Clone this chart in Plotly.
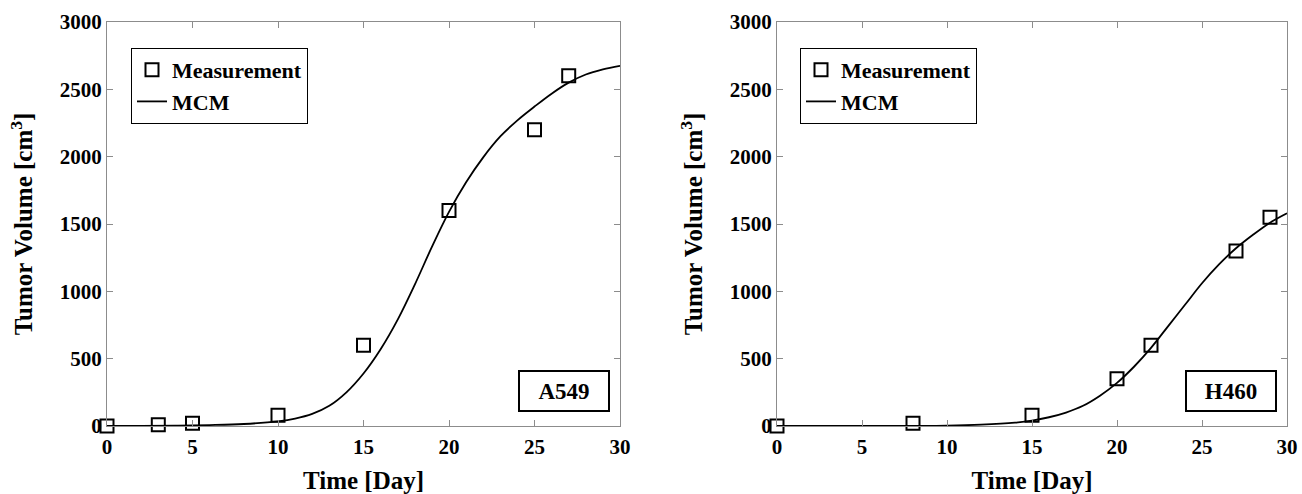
import plotly.graph_objects as go

# Measured tumor volumes
a549_days = [0, 3, 5, 10, 15, 20, 25, 27]
a549_volume = [0, 10, 20, 80, 600, 1600, 2200, 2600]

h460_days = [0, 8, 15, 20, 22, 27, 29]
h460_volume = [0, 20, 80, 350, 600, 1300, 1550]

# MCM model curves
a549_mcm_days = [0, 2, 4, 6, 8, 10, 11, 12, 13, 14, 15, 16, 17, 18, 19, 20,
                 21, 22, 23, 24, 25, 26, 27, 28, 29, 30]
a549_mcm_volume = [0, 1, 3, 7, 15, 35, 55, 90, 150, 250, 390, 570, 790, 1050,
                   1330, 1590, 1810, 1995, 2150, 2270, 2372, 2468, 2550, 2610,
                   2648, 2675]

h460_mcm_days = [0, 5, 8, 10, 12, 14, 15, 16, 17, 18, 19, 20, 21, 22, 23, 24,
                 25, 26, 27, 28, 29, 30]
h460_mcm_volume = [0, 0, 1, 3, 10, 25, 40, 65, 100, 150, 225, 320, 440, 580,
                   740, 900, 1060, 1200, 1320, 1420, 1510, 1580]

x_ticks = [0, 5, 10, 15, 20, 25, 30]
y_ticks = [0, 500, 1000, 1500, 2000, 2500, 3000]

FONT = "Liberation Serif"
AXIS_GREY = "#8c8c8c"

fig = go.Figure()

panels = [
    ("x", "y", "legend", a549_days, a549_volume, a549_mcm_days, a549_mcm_volume),
    ("x2", "y2", "legend2", h460_days, h460_volume, h460_mcm_days, h460_mcm_volume),
]
for xa, ya, lg, d, v, md, mv in panels:
    fig.add_trace(go.Scatter(
        x=d, y=v, mode="markers", name="Measurement", xaxis=xa, yaxis=ya,
        legend=lg, cliponaxis=False,
        marker=dict(symbol="square-open", size=13, color="black",
                    line=dict(width=2, color="black")),
    ))
    fig.add_trace(go.Scatter(
        x=md, y=mv, mode="lines", name="MCM", xaxis=xa, yaxis=ya,
        legend=lg, cliponaxis=False, line_shape="spline",
        line=dict(color="black", width=1.8),
    ))

tick_font = dict(family=FONT, size=21, color="black", weight="bold")
title_font = dict(family=FONT, size=25, color="black", weight="bold")
axis_common = dict(
    showline=True, linecolor=AXIS_GREY, linewidth=1.2, mirror="ticks",
    ticks="inside", ticklen=6, tickcolor=AXIS_GREY, tickwidth=1,
    showgrid=False, zeroline=False, tickfont=tick_font, automargin=False,
)
x_common = dict(range=[0, 30], tickvals=x_ticks, ticklabelstandoff=2,
                title=dict(text="Time [Day]", font=title_font, standoff=19),
                **axis_common)
y_common = dict(range=[0, 3000], tickvals=y_ticks,
                title=dict(text="Tumor Volume [cm<sup>3</sup>]", font=title_font, standoff=19),
                **axis_common)

ydom = [1 - 426 / 494, 1 - 22 / 494]
legend_style = dict(yanchor="top", xanchor="left", y=1 - 48 / 494,
                    bgcolor="white", bordercolor="black", borderwidth=1,
                    font=dict(family=FONT, size=22, color="black", weight="bold"),
                    tracegroupgap=0, itemwidth=30)

fig.update_layout(
    width=1302, height=494,
    margin=dict(l=0, r=0, t=0, b=0, autoexpand=False),
    paper_bgcolor="white", plot_bgcolor="white",
    font=dict(family=FONT, color="black"),
    xaxis=dict(domain=[107 / 1302, 620 / 1302], anchor="y", **x_common),
    yaxis=dict(domain=ydom, anchor="x", **y_common),
    xaxis2=dict(domain=[777 / 1302, 1287 / 1302], anchor="y2", **x_common),
    yaxis2=dict(domain=ydom, anchor="x2", **y_common),
    legend=dict(x=131 / 1302, **legend_style),
    legend2=dict(x=800 / 1302, **legend_style),
)

for xa, ya, label in [("x", "y", "A549"), ("x2", "y2", "H460")]:
    fig.add_annotation(
        x=0.89, y=0.087, xref=f"{xa} domain", yref=f"{ya} domain",
        xanchor="center", yanchor="middle", text=label, showarrow=False,
        font=dict(family=FONT, size=23, color="black", weight="bold"),
        bordercolor="black", borderwidth=2, borderpad=8, bgcolor="white",
        width=72, height=22,
    )

fig.write_html("out.html")
